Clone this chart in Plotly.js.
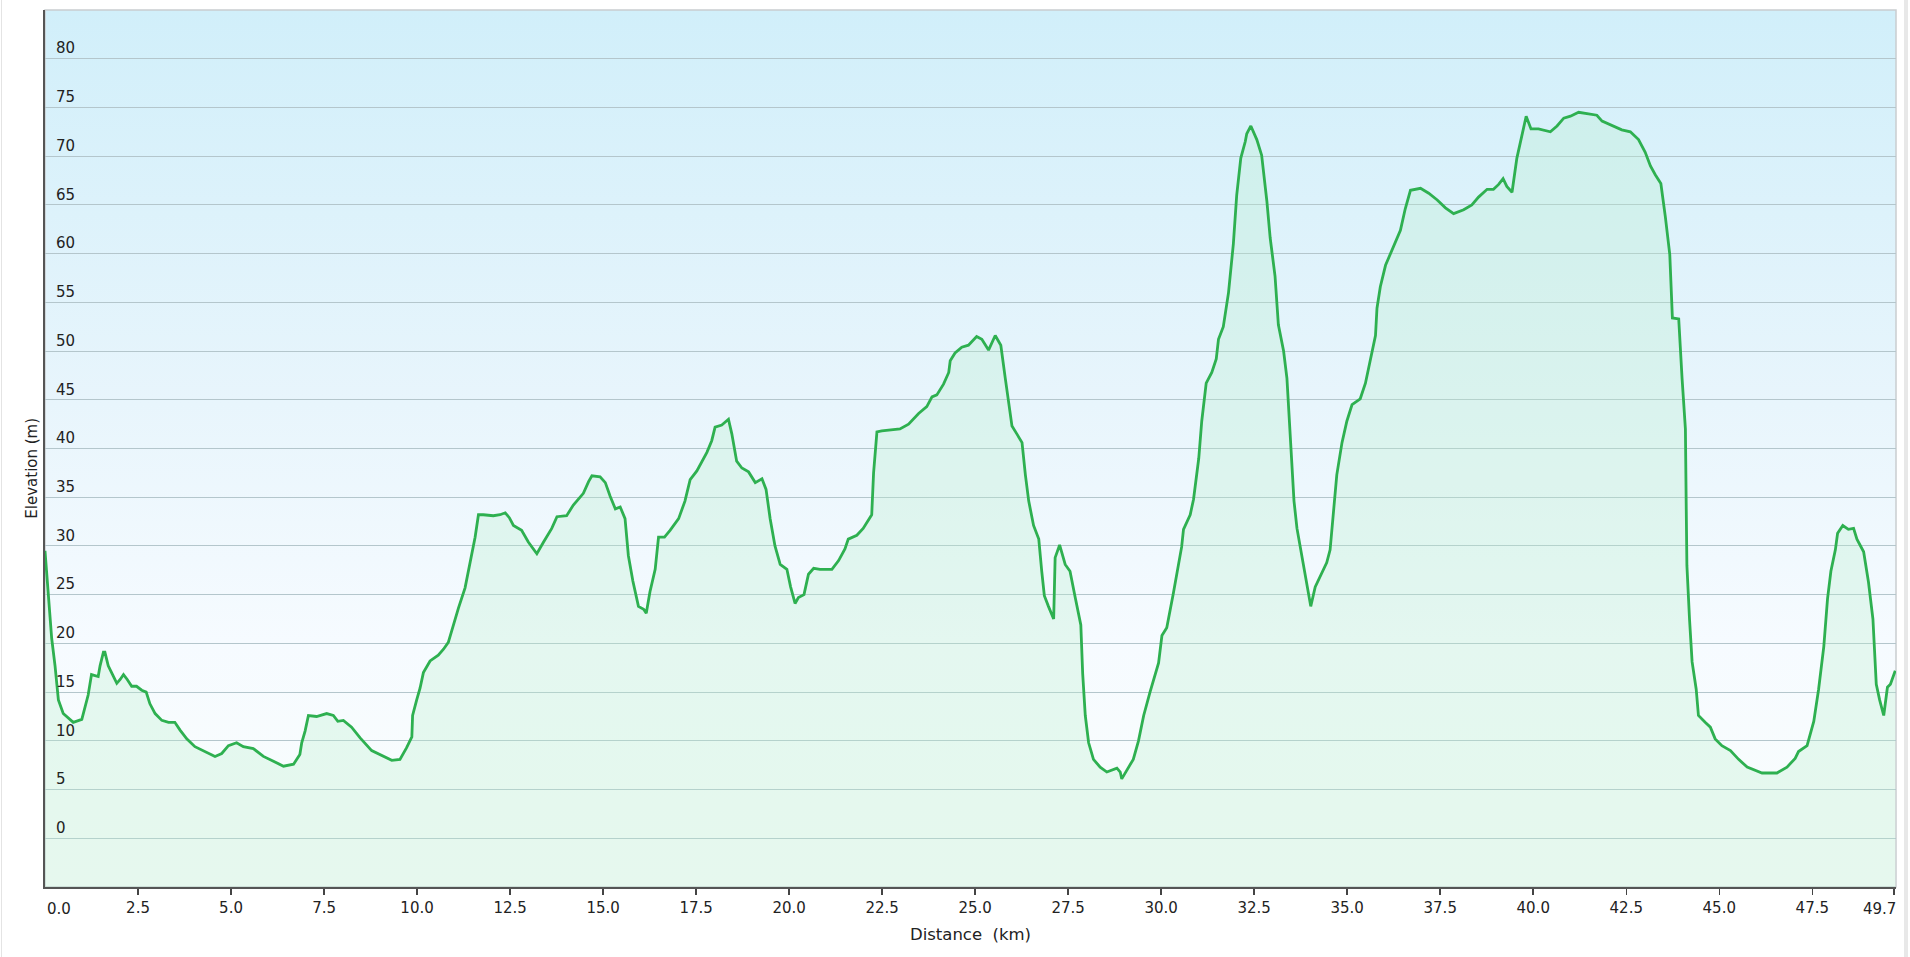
<!DOCTYPE html>
<html>
<head>
<meta charset="utf-8">
<script src="https://cdn.plot.ly/plotly-3.0.1.min.js"></script>
<style>
  html, body { margin: 0; padding: 0; background: #ffffff; }
  #wrap { position: relative; width: 1910px; height: 957px; }
  #chart { width: 1910px; height: 957px; }
  #edgeL { position: absolute; left: 1px; top: 0; width: 1px; height: 957px; background: #e4e4e4; }
  #edgeR { position: absolute; left: 1904px; top: 0; width: 4px; height: 957px; background: #e8e8e8; }
</style>
</head>
<body>
<div id="wrap">
  <div id="chart"></div>
  <div id="edgeL"></div>
  <div id="edgeR"></div>
</div>
<script>
// Distance along the route (km)
const distanceKm = [
  0.00, 0.09, 0.18, 0.27, 0.36, 0.49, 0.76, 0.99, 1.08, 1.16, 1.25, 1.34, 1.43, 1.48, 1.57, 1.61,
  1.70, 1.79, 1.93, 2.02, 2.11, 2.21, 2.33, 2.46, 2.60, 2.72, 2.82, 2.96, 3.14, 3.32, 3.49, 3.63,
  3.81, 4.03, 4.26, 4.57, 4.75, 4.93, 5.15, 5.33, 5.60, 5.87, 6.14, 6.41, 6.68, 6.85, 6.90, 6.99,
  7.08, 7.30, 7.57, 7.75, 7.87, 8.02, 8.24, 8.47, 8.78, 9.01, 9.32, 9.54, 9.72, 9.86, 9.88, 9.99,
  10.08, 10.17, 10.35, 10.57, 10.71, 10.84, 10.98, 11.11, 11.29, 11.42, 11.56, 11.65, 11.78, 12.05,
  12.23, 12.37, 12.48, 12.59, 12.81, 12.99, 13.22, 13.40, 13.62, 13.76, 14.02, 14.20, 14.47, 14.61,
  14.70, 14.92, 15.06, 15.19, 15.33, 15.46, 15.59, 15.68, 15.80, 15.95, 16.09, 16.16, 16.26, 16.40,
  16.49, 16.65, 16.80, 17.03, 17.20, 17.34, 17.52, 17.79, 17.92, 18.01, 18.19, 18.37, 18.46, 18.59,
  18.73, 18.91, 19.09, 19.27, 19.38, 19.49, 19.62, 19.76, 19.94, 20.04, 20.16, 20.25, 20.40, 20.52,
  20.66, 20.83, 21.15, 21.33, 21.50, 21.59, 21.82, 21.99, 22.22, 22.27, 22.36, 22.49, 22.98, 23.21,
  23.39, 23.48, 23.70, 23.84, 23.97, 24.15, 24.29, 24.33, 24.46, 24.64, 24.82, 24.96, 25.04, 25.18,
  25.36, 25.54, 25.69, 25.81, 25.90, 25.99, 26.12, 26.26, 26.35, 26.44, 26.57, 26.71, 26.79, 26.86,
  26.97, 27.11, 27.15, 27.27, 27.42, 27.55, 27.69, 27.84, 27.89, 27.96, 28.05, 28.18, 28.36, 28.54,
  28.81, 28.90, 28.94, 29.08, 29.25, 29.39, 29.53, 29.70, 29.93, 30.02, 30.15, 30.33, 30.55, 30.60,
  30.78, 30.87, 31.01, 31.09, 31.21, 31.36, 31.48, 31.54, 31.67, 31.81, 31.94, 32.03, 32.14, 32.26,
  32.30, 32.41, 32.57, 32.70, 32.84, 32.93, 33.06, 33.15, 33.29, 33.38, 33.47, 33.57, 33.65, 33.83,
  34.02, 34.14, 34.27, 34.45, 34.54, 34.63, 34.72, 34.86, 34.99, 35.13, 35.35, 35.49, 35.62, 35.76,
  35.80, 35.89, 36.03, 36.16, 36.29, 36.43, 36.56, 36.70, 36.97, 37.19, 37.42, 37.64, 37.86, 38.13,
  38.35, 38.53, 38.76, 38.93, 39.07, 39.19, 39.29, 39.43, 39.56, 39.70, 39.81, 39.94, 40.14, 40.46,
  40.64, 40.82, 41.00, 41.22, 41.49, 41.71, 41.85, 42.07, 42.38, 42.61, 42.83, 43.01, 43.15, 43.28,
  43.43, 43.55, 43.67, 43.74, 43.91, 44.00, 44.09, 44.11, 44.13, 44.20, 44.27, 44.38, 44.44, 44.62,
  44.76, 44.89, 45.07, 45.30, 45.52, 45.75, 46.15, 46.55, 46.82, 47.04, 47.13, 47.36, 47.54, 47.67,
  47.81, 47.91, 48.00, 48.12, 48.18, 48.32, 48.47, 48.61, 48.70, 48.88, 49.01, 49.13, 49.22, 49.31,
  49.42, 49.52, 49.60, 49.73
];

// Elevation (m)
const elevationM = [
  29.5, 25.2, 20.5, 17.7, 14.2, 12.8, 11.9, 12.2, 13.5, 14.7, 16.8, 16.7, 16.6, 17.7, 19.1, 19.1,
  17.7, 17.0, 15.9, 16.3, 16.8, 16.3, 15.6, 15.6, 15.2, 15.0, 13.8, 12.8, 12.1, 11.9, 11.9, 11.1,
  10.2, 9.4, 9.0, 8.4, 8.7, 9.5, 9.8, 9.4, 9.2, 8.4, 7.9, 7.4, 7.6, 8.6, 9.8, 11.0,
  12.6, 12.5, 12.8, 12.6, 12.0, 12.1, 11.4, 10.3, 9.0, 8.6, 8.0, 8.1, 9.3, 10.4, 12.6, 14.2,
  15.4, 17.0, 18.2, 18.8, 19.4, 20.1, 22.0, 23.6, 25.7, 28.1, 30.9, 33.2, 33.2, 33.1,
  33.2, 33.4, 32.9, 32.1, 31.6, 30.4, 29.2, 30.4, 31.8, 33.0, 33.1, 34.2, 35.4, 36.6,
  37.2, 37.1, 36.5, 35.1, 33.8, 34.0, 32.8, 29.0, 26.4, 23.8, 23.5, 23.1, 25.3, 27.6,
  30.9, 30.9, 31.6, 32.8, 34.6, 36.8, 37.7, 39.6, 40.8, 42.2, 42.4, 43.0, 41.5, 38.7,
  38.0, 37.6, 36.5, 36.9, 35.8, 32.8, 30.0, 28.1, 27.6, 25.8, 24.1, 24.7, 25.0, 27.1,
  27.7, 27.6, 27.6, 28.5, 29.7, 30.7, 31.1, 31.8, 33.2, 37.5, 41.7, 41.8, 42.0, 42.5,
  43.2, 43.6, 44.3, 45.3, 45.5, 46.6, 47.8, 49.0, 49.8, 50.4, 50.6, 51.2, 51.5, 51.2,
  50.1, 51.6, 50.6, 47.2, 44.5, 42.3, 41.5, 40.6, 37.3, 34.6, 32.1, 30.7, 27.4, 24.9,
  23.8, 22.5, 28.8, 30.1, 28.1, 27.4, 24.7, 21.9, 16.9, 12.6, 9.8, 8.1, 7.3, 6.8,
  7.2, 6.8, 6.1, 7.0, 8.1, 10.0, 12.6, 15.0, 18.0, 20.8, 21.6, 25.2, 29.9, 31.7,
  33.2, 34.8, 39.0, 42.8, 46.7, 47.8, 49.2, 51.2, 52.5, 56.0, 61.0, 66.0, 69.8, 71.5,
  72.3, 73.1, 71.7, 70.1, 65.4, 61.6, 57.7, 52.7, 50.0, 47.2, 41.5, 34.6, 31.8, 28.0,
  23.8, 25.8, 26.9, 28.3, 29.6, 33.5, 37.3, 40.6, 42.8, 44.5, 45.1, 46.7, 48.9, 51.6,
  54.4, 56.6, 58.8, 60.0, 61.1, 62.4, 64.6, 66.5, 66.7, 66.2, 65.5, 64.7, 64.1, 64.5,
  65.0, 65.8, 66.6, 66.6, 67.1, 67.7, 66.9, 66.3, 69.8, 72.3, 74.1, 72.8, 72.8, 72.5,
  73.1, 73.9, 74.1, 74.5, 74.3, 74.2, 73.6, 73.2, 72.7, 72.5, 71.7, 70.4, 69.0, 68.1,
  67.2, 63.8, 59.9, 53.4, 53.3, 47.2, 42.0, 34.6, 28.0, 22.5, 18.1, 15.3, 12.6, 11.9,
  11.4, 10.2, 9.5, 9.0, 8.1, 7.3, 6.7, 6.7, 7.3, 8.2, 8.9, 9.5, 12.0, 15.3,
  19.7, 24.6, 27.4, 29.6, 31.3, 32.1, 31.7, 31.8, 30.7, 29.4, 26.3, 22.5, 15.8, 14.2,
  12.6, 15.5, 15.8, 17.2
];

// Axis ticks
const xTickVals = [0, 2.5, 5, 7.5, 10, 12.5, 15, 17.5, 20, 22.5, 25, 27.5, 30, 32.5, 35, 37.5, 40, 42.5, 45, 47.5, 49.7];
const xTickText = xTickVals.map(v => v.toFixed(1));
const yTickVals = [0, 5, 10, 15, 20, 25, 30, 35, 40, 45, 50, 55, 60, 65, 70, 75, 80];
const yRange = [-5, 85];
const xRange = [0, 49.75];
const xTitle = 'Distance\u00a0 (km)';
const yTitle = 'Elevation (m)';

const fontFam = '"DejaVu Sans", Verdana, sans-serif';
const textColor = '#222222';
const tickSize = 15;

const bgSvg = '<svg xmlns="http://www.w3.org/2000/svg" width="10" height="100" preserveAspectRatio="none">' +
  '<defs><linearGradient id="g" x1="0" y1="0" x2="0" y2="1">' +
  '<stop offset="0" stop-color="#d1effa"/>' +
  '<stop offset="0.45" stop-color="#e8f5fc"/>' +
  '<stop offset="0.72" stop-color="#f6fbff"/>' +
  '<stop offset="1" stop-color="#f9fdfc"/>' +
  '</linearGradient></defs><rect width="10" height="100" fill="url(#g)"/></svg>';
const bgUri = 'data:image/svg+xml;base64,' + btoa(bgSvg);

const baseTrace = {
  x: distanceKm,
  y: distanceKm.map(() => yRange[0]),
  mode: 'lines',
  line: { width: 0, color: 'rgba(0,0,0,0)' },
  hoverinfo: 'skip',
  showlegend: false
};

const profileTrace = {
  x: distanceKm,
  y: elevationM,
  mode: 'lines',
  fill: 'tonexty',
  fillcolor: 'rgba(185,240,205,0.30)',
  line: { color: '#2eb050', width: 2.8 },
  showlegend: false
};

// end tick labels are aligned inward, as in the reference
const lastIdx = xTickVals.length - 1;
const axisTickText = xTickText.map((t, i) => (i === 0 || i === lastIdx) ? '' : t);
const endLabels = [
  { x: xTickVals[0], text: xTickText[0], xanchor: 'left', xshift: 0 },
  { x: xTickVals[lastIdx], text: xTickText[lastIdx], xanchor: 'right', xshift: 4 }
].map(a => ({
  x: a.x, xref: 'x', y: 0, yref: 'paper', yanchor: 'middle', yshift: -22,
  xanchor: a.xanchor, xshift: a.xshift, text: a.text, showarrow: false,
  font: { family: fontFam, size: tickSize, color: textColor }
}));

const yTitleAnn = {
  x: 0, xref: 'paper', xanchor: 'center', xshift: -13,
  y: 0.477, yref: 'paper', yanchor: 'middle',
  text: yTitle, textangle: -90, showarrow: false,
  font: { family: fontFam, size: 15, color: textColor }
};

const layout = {
  width: 1910,
  height: 957,
  margin: { l: 45, r: 14, t: 10, b: 70, pad: 0 },
  paper_bgcolor: '#ffffff',
  plot_bgcolor: 'rgba(0,0,0,0)',
  font: { family: fontFam, size: tickSize, color: textColor },
  images: [{
    source: bgUri, xref: 'paper', yref: 'paper', x: 0, y: 1, sizex: 1, sizey: 1,
    sizing: 'stretch', xanchor: 'left', yanchor: 'top', layer: 'below'
  }],
  shapes: [{
    type: 'rect', xref: 'paper', yref: 'paper', x0: 0, x1: 1, y0: 0, y1: 1,
    line: { color: '#c9cdd0', width: 1.5 }, fillcolor: 'rgba(0,0,0,0)', layer: 'below'
  }],
  annotations: endLabels.concat([yTitleAnn]),
  xaxis: {
    range: xRange,
    tickmode: 'array',
    tickvals: xTickVals,
    ticktext: axisTickText,
    ticks: 'outside',
    ticklen: 6,
    tickwidth: 1.5,
    tickcolor: '#444444',
    showline: true,
    linecolor: '#555555',
    linewidth: 2,
    showgrid: false,
    zeroline: false,
    tickfont: { family: fontFam, size: tickSize, color: textColor },
    title: { text: xTitle, font: { family: fontFam, size: 16.5, color: textColor }, standoff: 12 }
  },
  yaxis: {
    range: yRange,
    tickmode: 'array',
    tickvals: yTickVals,
    ticks: '',
    ticklabelposition: 'inside top',
    ticklabelstandoff: 10,
    showline: true,
    linecolor: '#555555',
    linewidth: 2,
    showgrid: true,
    gridcolor: '#b4c6cc',
    gridwidth: 1,
    zeroline: false,
    tickfont: { family: fontFam, size: tickSize, color: textColor }
  }
};

Plotly.newPlot('chart', [baseTrace, profileTrace], layout, { displayModeBar: false, staticPlot: true });
</script>
</body>
</html>
